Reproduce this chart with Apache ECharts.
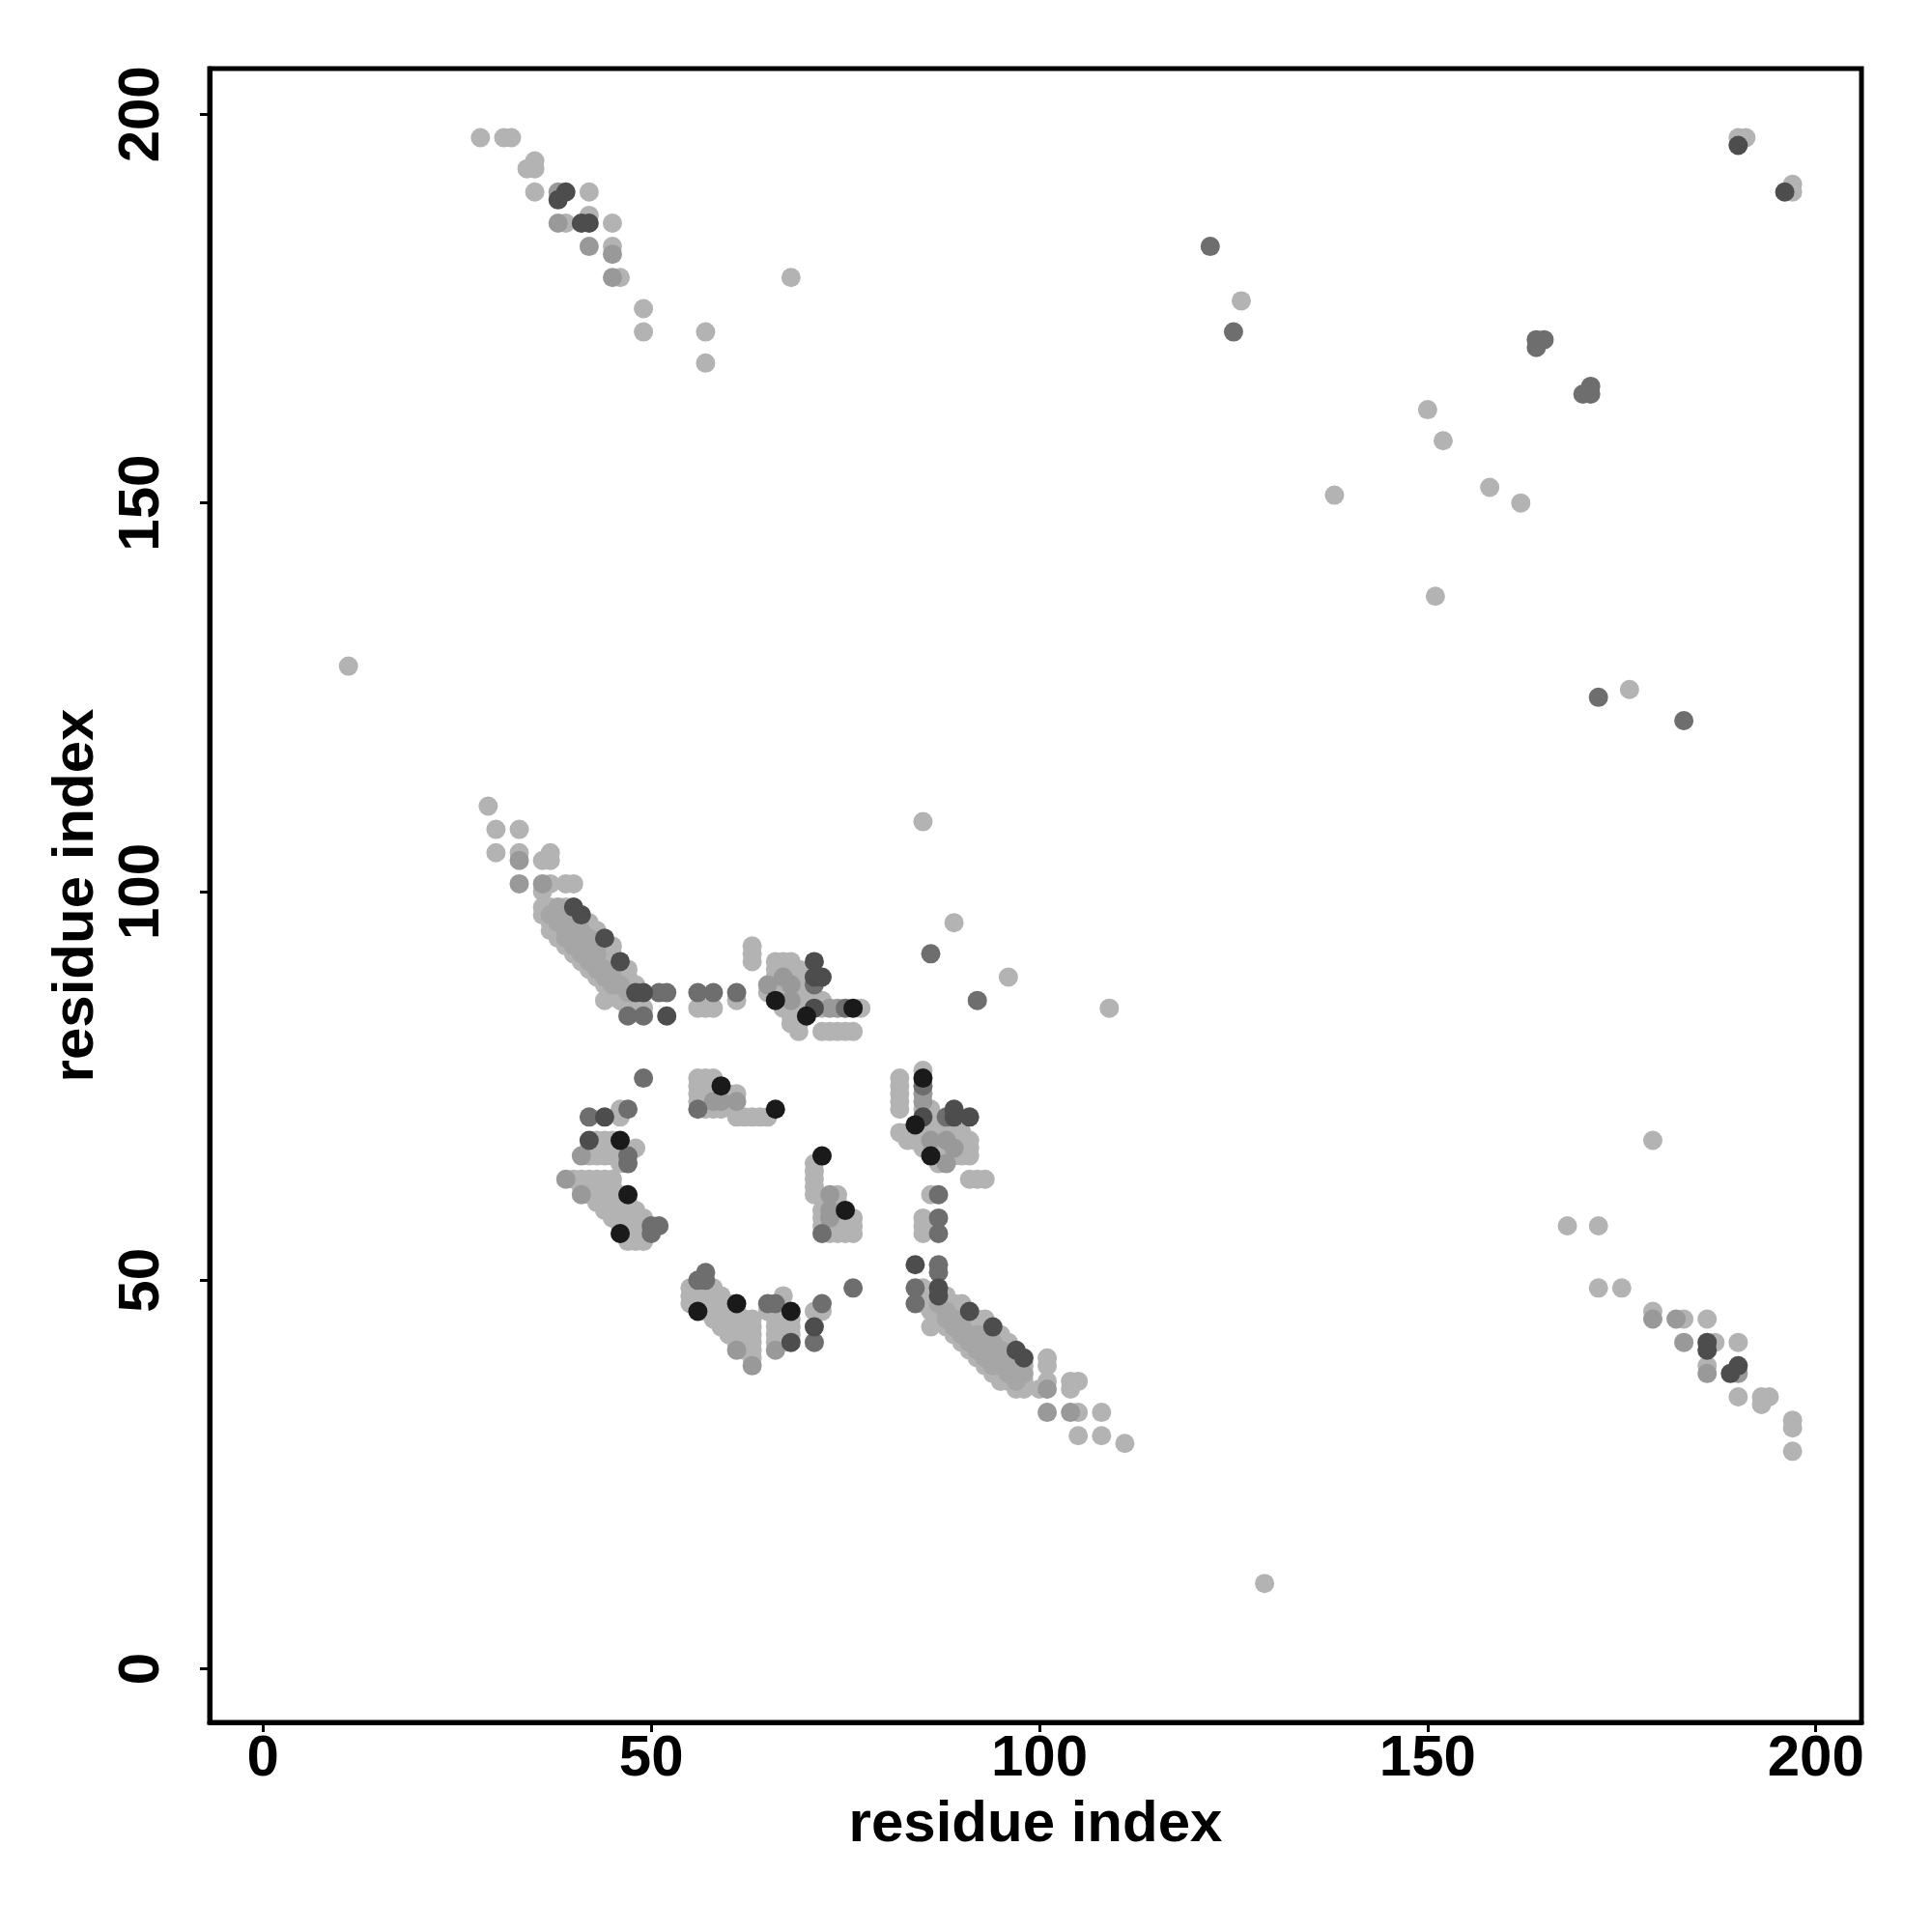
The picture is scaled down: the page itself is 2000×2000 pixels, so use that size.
<!DOCTYPE html>
<html><head><meta charset="utf-8">
<script src="https://cdn.jsdelivr.net/npm/echarts@6/dist/echarts.min.js"></script>
<style>html,body{margin:0;padding:0;background:#fff}#c{width:2000px;height:2000px}</style>
</head><body><div id="c"></div><script>
// Tick labels on both axes
const tickValues = [0, 50, 100, 150, 200];
const axisTitleX = 'residue index';
const axisTitleY = 'residue index';

// Contacts (i, j) read from the upper triangle (j > i); the map is symmetric.
const contactsLight = [
  [28,197],[31,197],[32,197],[35,194],[34,193],[35,193],[35,190],[42,190],[39,186],[42,187],[45,186],[45,183],[46,179],[68,179],[49,175],[49,172],[57,172],[57,168],
  [190,197],[191,197],[126,176],[138,151],[150,162],[152,158],
  [11,129],[85,109],[89,96],
  [29,111],[30,108],[33,108],[30,105],[33,105],[36,104],[37,105],[37,104],[37,101],[39,101],[40,101],[36,100],
  [36,98],[37,98],[39,98],[36,97],[39,97],[40,97],[37,96],[41,96],[42,96],[37,95],[38,95],[42,95],[43,95],
  [38,94],[43,94],[39,93],[44,93],[45,93],[40,92],[44,92],[45,92],[41,91],[44,91],[45,91],
  [42,90],[45,90],[46,90],[47,90],[43,89],[46,89],[47,89],[44,88],[47,88],[48,88],[46,87],
  [44,86],[46,86],[47,86],[48,86],[61,86],[47,85],[48,85],[49,85],[56,85],[57,85],[58,85],
  [66,91],[67,91],[68,91],[66,90],[67,90],[68,90],[69,90],[66,89],[68,89],[69,89],[66,88],[67,88],[69,88],
  [65,87],[66,87],[67,87],[68,87],[69,87],[70,87],[67,86],[69,86],[72,86],[67,85],[68,85],[69,85],[72,85],[77,85],
  [68,84],[69,84],[68,83],[69,83],[69,82],[72,82],[73,82],[74,82],[75,82],[76,82],[63,93],[63,92],[63,91],
  [56,76],[57,76],[58,76],[56,75],[57,75],[58,75],[56,74],[57,74],[58,74],[59,74],[60,74],[61,74],
  [56,73],[57,73],[60,73],[57,72],[58,72],[59,72],[61,71],[62,71],[63,71],[64,71],[65,71],
  [46,72],[46,71],[44,68],[43,68],[45,68],[42,67],[43,67],[44,67],[45,67],[48,67],[42,66],[43,66],[44,66],[45,66],[46,66],[46,65],
  [40,63],[41,63],[42,63],[43,63],[44,63],[45,63],[41,62],[42,62],[43,62],[44,62],[45,62],
  [42,61],[43,61],[44,61],[45,61],[46,61],[43,60],[44,60],[45,60],[46,60],[47,60],
  [44,59],[45,59],[46,59],[47,59],[48,59],[45,58],[46,58],[47,58],[48,58],[49,58],
  [46,57],[47,57],[48,57],[49,57],[47,56],[48,56],[49,56],[47,55],[48,55],[49,55]
];
const contactsMidLight = [
  [38,98],[37,97],[38,97],[38,96],[39,96],[40,96],[39,95],[40,95],[41,95],
  [39,94],[40,94],[41,94],[42,94],[40,93],[41,93],[42,93],[43,93],[41,92],[42,92],[43,92],
  [42,91],[43,91],[43,90],[44,90],[44,89],[45,89],[45,88],[46,88],[47,87]
];
const contactsMid = [
  [38,190],[38,186],[42,183],[45,182],[45,179],
  [33,104],[33,101],[36,101],
  [67,89],[65,88],[68,88],[68,86],[73,85],[74,85],
  [58,73],[59,73],[61,73],
  [41,66],[39,63],[41,61]
];
const contactsDarkGrey = [
  [122,183],[125,172],[164,170],[164,171],[165,171],
  [86,92],
  [51,87],[52,87],[56,87],[58,87],[61,87],[47,84],[49,84],
  [71,88],[75,85],
  [56,72],
  [49,76],[47,72],[42,71],[47,66],[47,65],[50,57],[51,57],[50,56]
];
const contactsDark = [
  [39,190],[38,189],[41,186],[42,186],
  [190,196],
  [40,98],[41,97],[44,94],[46,91],[48,87],[49,87],[52,84],
  [71,91],[71,89],[72,89],[71,85],
  [44,71],[42,68]
];
const contactsBlack = [
  [66,86],[70,84],[76,85],
  [59,75],[66,72],
  [46,68],[47,61],[46,56]
];

function symmetric(pts) {
  const out = [];
  pts.forEach(p => { out.push([p[0], p[1]]); out.push([p[1], p[0]]); });
  return out;
}

const levels = [
  { color: '#b3b3b3', data: contactsLight },
  { color: '#a6a6a6', data: contactsMidLight },
  { color: '#999999', data: contactsMid },
  { color: '#6e6e6e', data: contactsDarkGrey },
  { color: '#4d4d4d', data: contactsDark },
  { color: '#1a1a1a', data: contactsBlack }
];

const FONT = 'Liberation Sans';
const labelStyle = { fontSize: 60, fontWeight: 'bold', fontFamily: FONT, color: '#000' };

const chart = echarts.init(document.getElementById('c'), null, { renderer: 'canvas' });
chart.setOption({
  animation: false,
  backgroundColor: '#fff',
  grid: { left: 217, top: 71, width: 1710, height: 1712, show: true, borderColor: '#000', borderWidth: 5, backgroundColor: 'transparent' },
  xAxis: {
    type: 'value', min: -6.88, max: 205.88,
    name: axisTitleX, nameLocation: 'middle', nameGap: 76,
    nameTextStyle: Object.assign({}, labelStyle),
    axisLine: { show: true, onZero: false, lineStyle: { color: '#000', width: 5 } },
    axisTick: { show: true, customValues: tickValues, length: 10, lineStyle: { color: '#000', width: 3 } },
    axisLabel: Object.assign({ customValues: tickValues, margin: 8 }, labelStyle),
    splitLine: { show: false }
  },
  yAxis: {
    type: 'value', min: -6.88, max: 205.88,
    name: axisTitleY, nameLocation: 'middle', nameGap: 108,
    nameTextStyle: Object.assign({}, labelStyle),
    axisLine: { show: true, onZero: false, lineStyle: { color: '#000', width: 5 } },
    axisTick: { show: true, customValues: tickValues, length: 10, lineStyle: { color: '#000', width: 3 } },
    axisLabel: Object.assign({ customValues: tickValues, margin: 40, rotate: 90 }, labelStyle),
    splitLine: { show: false }
  },
  series: levels.map(l => ({
    type: 'scatter', symbol: 'circle', symbolSize: 20, silent: true,
    itemStyle: { color: l.color, opacity: 1 },
    emphasis: { disabled: true },
    data: symmetric(l.data)
  }))
});
</script></body></html>
